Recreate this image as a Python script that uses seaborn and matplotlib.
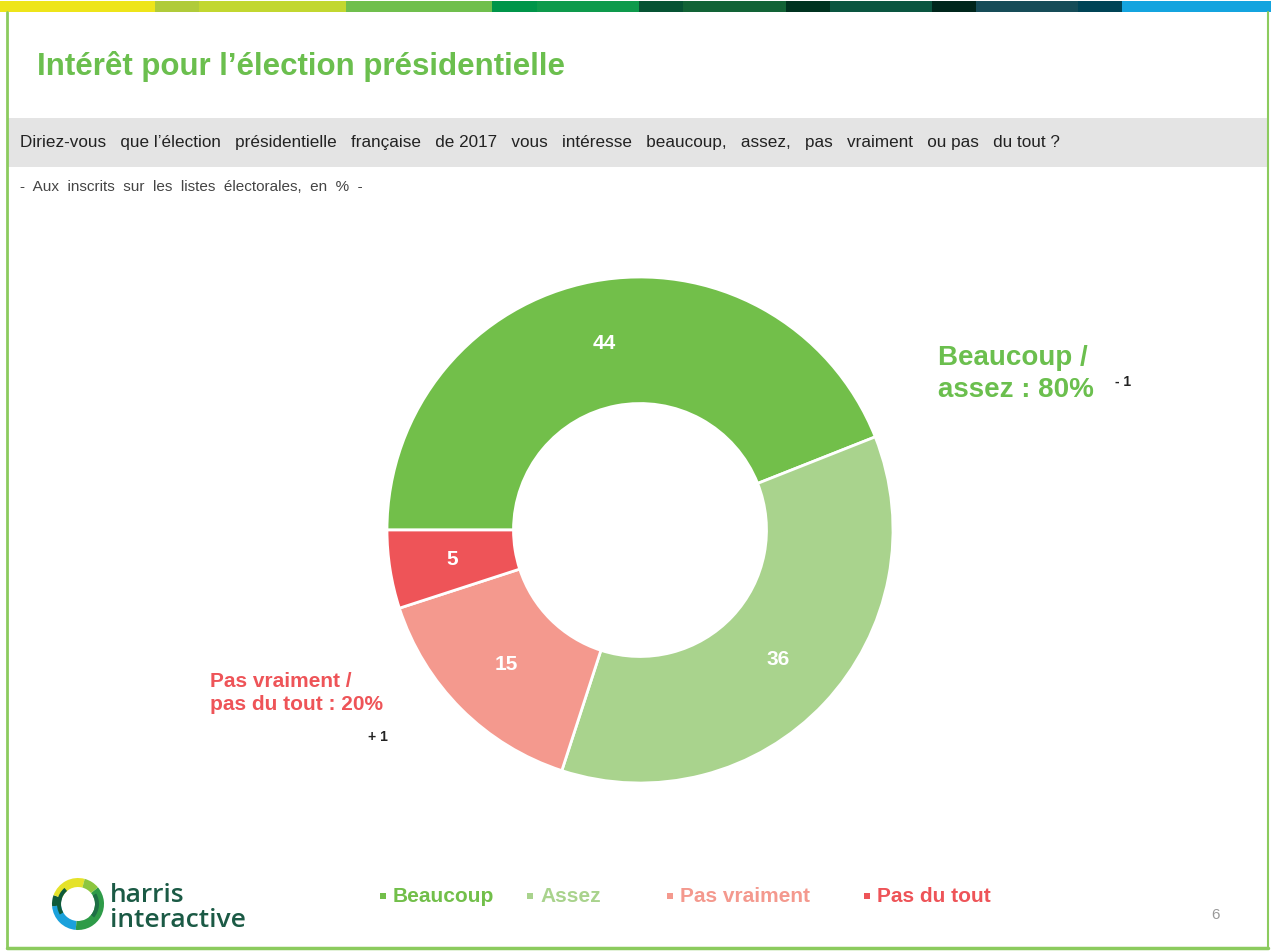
import matplotlib
matplotlib.use("Agg")
import matplotlib.pyplot as plt
import matplotlib.patches as mpatches
import seaborn as sns
import numpy as np

# ---- data ----
categories = ["Beaucoup", "Assez", "Pas vraiment", "Pas du tout"]
values = [44, 36, 15, 5]
colors_hex = ["#72BF4A", "#A9D38D", "#F4998E", "#EE5458"]
title = "Intérêt pour l’élection présidentielle"
question = ("Diriez-vous   que l’élection   présidentielle   française   de 2017   vous   intéresse   beaucoup,   "
            "assez,   pas   vraiment   ou pas   du tout ?")
base_note = "-  Aux  inscrits  sur  les  listes  électorales,  en  %  -"
pos_label = "Beaucoup /\nassez : 80%"
pos_delta = "- 1"
neg_label = "Pas vraiment /\npas du tout : 20%"
neg_delta = "+ 1"
page_num = "6"

strip_edges = [0, 155, 199, 346, 492, 537, 639, 683, 786, 830, 932, 976, 1078, 1122, 1271]
strip_colors = ["#EEE51A", "#B0CB3A", "#C2D730", "#70BF4D", "#00954A", "#0E9A4C", "#065334",
                "#126336", "#003320", "#0A5540", "#00261C", "#164C58", "#004456", "#14A4DF"]

sns.set_theme(style="white")
plt.rcParams["font.family"] = ["Liberation Sans", "DejaVu Sans"]
palette = sns.color_palette(colors_hex)

W, H = 1271, 952
fig = plt.figure(figsize=(W / 100, H / 100), dpi=100)
fig.patch.set_facecolor("white")

def fx(x):
    return x / W

def fy(y):
    return 1 - y / H

# background decoration axes
bg = fig.add_axes([0, 0, 1, 1])
bg.set_xlim(0, W)
bg.set_ylim(H, 0)
bg.axis("off")

# top colour strip
for i, c in enumerate(strip_colors):
    bg.add_patch(mpatches.Rectangle((strip_edges[i], 1), strip_edges[i + 1] - strip_edges[i], 11,
                                    facecolor=c, edgecolor="none"))
# frame
frame_c = "#8CCB5E"
bg.plot([7, 7], [12, 948], color=frame_c, lw=2)
bg.plot([7, 1268], [948, 948], color=frame_c, lw=2.5)
bg.plot([1268, 1268], [12, 948], color=frame_c, lw=1.5)

# grey question band
bg.add_patch(mpatches.Rectangle((8, 118), 1259, 49, facecolor="#E4E4E4", edgecolor="none"))

fig.text(fx(37), fy(66), title, fontsize=22.5, fontweight="bold", color="#6BBF4E", va="center", ha="left")
fig.text(fx(20), fy(143), question, fontsize=12.3, color="#222222", va="center", ha="left")
fig.text(fx(20), fy(187), base_note, fontsize=11, color="#444444", va="center", ha="left")

# ---- donut ----
cx, cy, R = 640, 530, 253
ax = fig.add_axes([fx(cx - R), fy(cy + R), 2 * R / W, 2 * R / H])
wedges, _ = ax.pie(values, colors=palette, startangle=180, counterclock=False, radius=1,
                   wedgeprops=dict(width=0.5, edgecolor="white", linewidth=2))
ax.set_xlim(-1, 1)
ax.set_ylim(-1, 1)
ax.set_aspect("equal")
ax.axis("off")

total = sum(values)
start = 180.0
for v in values:
    sweep = 360.0 * v / total
    mid = np.deg2rad(start - sweep / 2)
    ax.text(0.75 * np.cos(mid), 0.75 * np.sin(mid), str(v), ha="center", va="center",
            color="white", fontsize=15, fontweight="bold")
    start -= sweep

# annotations
fig.text(fx(938), fy(374), pos_label, fontsize=20, fontweight="bold", color="#6BBF4E",
         va="center", ha="left", linespacing=1.32)
fig.text(fx(1115), fy(382), pos_delta, fontsize=10, fontweight="bold", color="#222222", va="center", ha="left")
fig.text(fx(210), fy(693), neg_label, fontsize=15, fontweight="bold", color="#EE5458",
         va="center", ha="left", linespacing=1.32)
fig.text(fx(368), fy(737), neg_delta, fontsize=10, fontweight="bold", color="#222222", va="center", ha="left")

# legend
leg_x = [380, 527, 667, 864]
for x, cat, col in zip(leg_x, categories, palette):
    bg.add_patch(mpatches.Rectangle((x, 893), 6, 6, facecolor=col, edgecolor="none"))
    fig.text(fx(x + 13), fy(896), cat, fontsize=15, fontweight="bold", color=col, va="center", ha="left")

fig.text(fx(1215), fy(915), page_num, fontsize=11, color="#999999", va="center", ha="center")

# logo ring
lcx, lcy, lr = 78, 904, 26
ring = [(95, 175, "#1BA1DB"), (-40, 95, "#2E9B48"), (175, 200, "#0F5A3A"),
        (200, 285, "#E5E22A"), (285, 320, "#8CC63F")]
for a0, a1, c in ring:
    bg.add_patch(mpatches.Wedge((lcx, lcy), lr, a0, a1, width=9, facecolor=c, edgecolor="none"))
bg.add_patch(mpatches.Wedge((lcx, lcy), lr - 5, 150, 230, width=4, facecolor="#0F5A3A", edgecolor="none"))
bg.add_patch(mpatches.Wedge((lcx, lcy), lr - 5, -30, 40, width=4, facecolor="#1E6F45", edgecolor="none"))
fig.text(fx(110), fy(902), "harris", fontsize=19, fontweight="semibold", color="#1B5A45",
         va="baseline", ha="left", family=["Open Sans", "DejaVu Sans"])
fig.text(fx(110), fy(927), "interactive", fontsize=19, fontweight="semibold", color="#1B5A45",
         va="baseline", ha="left", family=["Open Sans", "DejaVu Sans"])

fig.savefig("out.png", dpi=100, facecolor="white")
